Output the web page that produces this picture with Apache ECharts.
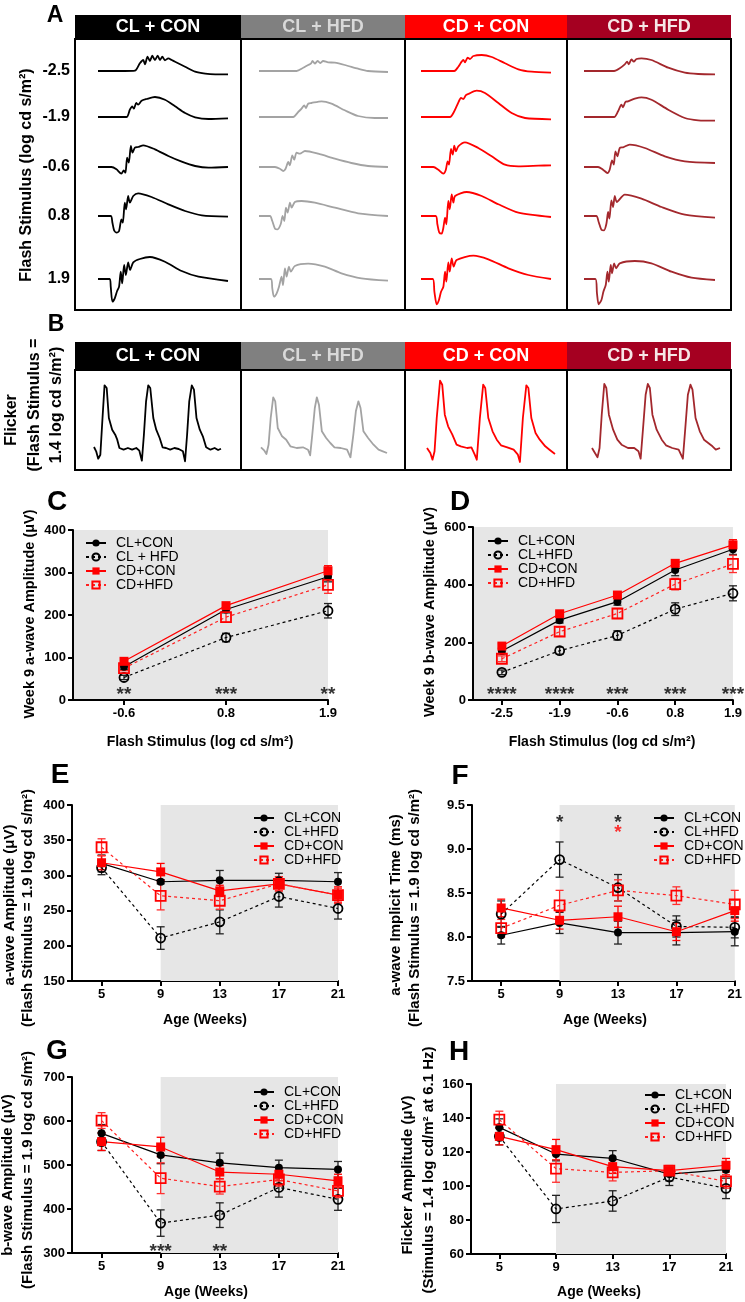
<!DOCTYPE html>
<html><head><meta charset="utf-8">
<script src="https://cdn.jsdelivr.net/npm/echarts@6/dist/echarts.min.js"></script>
<style>html,body{margin:0;padding:0;background:#fff}#c{width:745px;height:1302px}</style>
</head><body><div id="c"></div><script>
// ---------------- DATA ----------------
const groups = ['CL + CON', 'CL + HFD', 'CD + CON', 'CD + HFD'];
const rowLabels = ['-2.5', '-1.9', '-0.6', '0.8', '1.9'];

// Panel A ERG traces: [time % of sweep, amplitude (px-scaled)]
const ergCLCON = [
 [[0,0],[20.6,0],[28.4,0.3],[32.2,7.7],[34.8,11],[36.1,6.7],[38.1,14.3],[39.9,10],[41.8,15.3],[43.8,11],[45.9,15.3],[47.7,11],[49.5,14.3],[51.5,10.7],[54.1,12.7],[56.7,11],[59.3,9.3],[67,4.3],[74.7,-0.7],[82.5,-2.7],[90.2,-3.3],[100,-3.3]],
 [[0,0],[21.9,0],[24.5,7.3],[26.3,10.7],[27.6,8.3],[29.4,14],[30.9,12.3],[33.5,16.3],[37.4,18],[43.8,20],[51.5,17.3],[59.3,10.7],[67,4],[74.7,-0.3],[85,-2],[100,-1.3]],
 [[0,0],[10.3,0],[14.2,-2.3],[18,-6.7],[19.8,-3.3],[21.1,-5.7],[22.4,9.3],[23.7,4.3],[25.3,21],[26.5,14.3],[28.4,19.3],[30.9,20],[34.8,21.7],[43.8,17.7],[54.1,11],[64.4,5.3],[74.7,1],[85,-0.7],[100,0]],
 [[0,0],[9.8,0],[11.1,-6.7],[12.4,-14.3],[14.4,-16.7],[16.2,-15],[18,-3.3],[19.1,-6.7],[20.6,13.3],[21.6,6.7],[23.2,20],[24.5,13.3],[27.1,20],[30.9,22.7],[41.2,19],[54.1,11.7],[67,5],[79.9,0.7],[100,-0.7]],
 [[0,0],[9,0],[9.8,-7.7],[11.1,-22.7],[12.9,-19.3],[14.7,-12],[16.2,-7.7],[17.5,7.3],[18.6,-4.3],[20.1,14],[21.4,4],[23.2,16.7],[24.7,9],[27.1,16.7],[32.2,20],[39.9,22],[51.5,17.3],[64.4,8],[77.3,2.3],[100,-2]]
];
const ergCLHFD = [
 [[0,0],[29.1,0],[34.3,3.3],[38.1,6],[40.2,7.3],[41.5,10],[43.3,7.3],[45.4,10],[47.4,8],[49.7,10],[53.6,8.7],[58.8,8.3],[66.5,6],[76.8,2.3],[84.5,0],[100,-1]],
 [[0,0],[26.5,0],[30.4,5],[33,8.3],[35.1,11.7],[36.3,9],[38.1,13.3],[40.7,14],[48.5,15.7],[56.2,13.3],[66.5,6.7],[76.8,1],[89.7,-1],[100,-1]],
 [[0,0],[12.4,0],[16.2,-1.7],[18.8,-4],[20.6,-1.7],[22.7,5],[23.9,1.7],[25.8,11.7],[27.3,7.3],[29.1,14.3],[31.7,13.3],[35.6,16],[45.9,13.3],[58.8,8.3],[71.6,4],[84.5,1],[100,0]],
 [[0,0],[8.5,0],[10.3,-5],[12.4,-12.7],[14.4,-13.3],[16.8,-8.3],[18.3,0],[19.6,-5],[20.9,8.3],[22.2,3.3],[24,13.3],[25.3,8.3],[27.8,14],[33,15],[43.3,13.3],[58.8,8.3],[76.8,2.7],[100,0]],
 [[0,0],[9.3,0],[10.3,-9.3],[11.6,-17.7],[13.7,-14.3],[15.5,-7.7],[17.5,2.3],[18.6,-6],[20.1,10.7],[21.4,2.3],[23.2,12.3],[24.7,7.3],[27.8,13],[38.1,15.3],[51,12.3],[63.9,5.7],[79.4,0.7],[100,-1.7]]
];
const ergCDCON = [
 [[0,0],[25.6,0],[28.7,4.3],[32.6,11],[33.8,8.7],[35.9,13.3],[37.7,12],[40.3,15],[46.7,16],[54.4,14],[64.6,7.7],[74.9,1.7],[85.1,-0.7],[100,-1.7]],
 [[0,0],[22.3,0],[25.6,5.7],[28.2,13],[30.8,19],[32.6,18],[34.4,21.7],[36.4,23],[42.8,26.3],[49.2,24],[59.5,14],[69.7,4],[80,-1],[100,-2.3]],
 [[0,0],[9.5,0],[13.3,-2.7],[17.2,-6.7],[19,-3.3],[20.5,5.7],[21.5,2.3],[23.1,18],[24.4,12.3],[25.6,21.3],[26.9,15.7],[28.7,20.7],[33.8,24.7],[44.1,19],[54.4,10.7],[64.6,2.3],[74.9,0.7],[90.3,1.3],[100,1.7]],
 [[0,0],[11.3,0],[12.6,-8.3],[14.1,-16.7],[15.9,-17.7],[17.2,-11.7],[18.5,-1.7],[19.5,-8.3],[21,15],[22.1,6.7],[23.6,21.7],[24.9,13.3],[26.2,20],[35.1,24],[46.7,20],[59.5,11.7],[74.9,3.3],[100,-1]],
 [[0,0],[9,0],[10.3,-12.7],[12.1,-25.3],[13.8,-21],[15.4,-12.7],[17.2,-7.7],[18.5,7.3],[19.5,-2.7],[21,16.7],[22.1,7.3],[23.6,20.7],[25.1,12.3],[27.4,19],[40.3,23.3],[51.8,19.7],[67.2,10.7],[82.6,4],[100,0]]
];
const ergCDHFD = [
 [[0,0],[23,0],[27.3,2.7],[31.1,6.7],[32.9,9.3],[34.2,6.7],[36.2,11.7],[38,9.3],[40.1,12],[43.9,12.7],[51.5,11],[64.3,3.3],[77,-1.7],[87.2,-3],[100,-3.3]],
 [[0,0],[23,0],[26,5.7],[28.6,12.3],[29.8,9.7],[31.6,15],[33.7,15.7],[38.8,18.3],[43.9,19.7],[51.5,17.3],[64.3,7.3],[77,-1],[87.2,-3.3],[100,-3.7]],
 [[0,0],[10.7,0],[14.5,-2.7],[17.9,-6],[19.6,-2.7],[21.4,6.7],[22.7,2.3],[24,15.7],[25.5,10.7],[27.3,19],[29.8,19.7],[34.9,22.3],[46.4,19],[61.7,10.7],[77,5.7],[100,4]],
 [[0,0],[9.4,0],[11.2,-6],[13.3,-13.7],[15.3,-14.3],[17.1,-7.7],[18.4,4],[19.4,-2.7],[20.9,15.7],[22.2,9],[23.5,20],[25,14],[31.1,21.3],[43.9,17.3],[59.2,9],[77,1.3],[100,-1.7]],
 [[0,0],[8.7,0],[9.9,-14.3],[11.2,-25.3],[13.3,-21],[14.8,-12.7],[16.6,-6],[17.9,7.3],[18.9,-2.7],[20.4,14],[21.4,5.7],[23,15.7],[24.5,10.7],[27.3,15.7],[38.8,18],[51.5,15.7],[66.8,7.3],[82.1,1.3],[100,-1]]
];

// Panel B flicker traces
const flkCLCON = [[0,1],[1.7,-3.3],[3.3,-10.7],[5,-6.7],[6.7,30],[8.3,62.7],[10,60],[11.7,30],[14.3,18.3],[16.7,13.3],[18.3,8.3],[20,0],[23.3,-1.7],[26.7,0],[30,-1.7],[33.3,0],[35.7,-2.7],[37.7,-12.7],[39.3,13.3],[41,46.7],[42.7,62.7],[44.3,60],[46.7,30],[49,18.3],[51.7,10],[54,0.7],[56.7,0],[60,-1.7],[63.3,0],[66.7,-1],[70,-3.3],[71.7,-13.3],[73.3,13.3],[75,46.7],[77,62.7],[78.7,58.3],[80.7,30],[83.3,18.3],[85.7,11.7],[88.3,0.7],[91.7,-1.7],[95,0],[97.7,-2],[100,-0.7]];
const flkCLHFD = [[0,0.7],[2.7,-2.7],[4.3,-6],[6,3.3],[7.7,30],[9.7,50.7],[11.3,46.7],[13.3,20],[16.7,11.7],[20,8.3],[23.3,1.7],[28.3,0],[33.3,0.7],[37.3,-1.7],[39,-7.3],[40.7,13.3],[42.7,40],[44.3,50.7],[46,43.3],[48.3,16.7],[51.7,10],[55,5],[58.3,0.7],[63.3,0],[68.3,-1.7],[71,-9.3],[73.3,13.3],[75.3,36.7],[77.3,46.7],[79,40],[81.3,16.7],[85,10],[89.3,3.3],[93.3,-1.7],[96.7,-3.3],[100,-5]];
const flkCDCON = [[0,0],[2.6,-5],[4.3,-11.7],[5.9,-3.3],[7.6,30],[10.2,67.3],[11.9,63.3],[13.9,33.3],[16.5,21.7],[19.8,13.3],[23.1,3.3],[26.4,1.7],[31.4,0],[34.7,0.7],[37.3,-6.7],[38.9,-11.7],[41.3,30],[43.9,63.3],[45.5,60],[47.9,30],[51.2,16.7],[54.5,8.3],[57.8,2.7],[62.7,0.7],[67.7,-1.7],[71,-6.7],[72.6,-14],[74.9,30],[77.6,62.7],[79.2,60],[81.5,30],[84.8,15],[88.1,8.3],[92.4,1.7],[95.7,-1.7],[100,-6]];
const flkCDHFD = [[0,0],[2.3,-5],[4.3,-9.3],[5.9,0],[7.6,33.3],[9.6,64],[11.2,60],[13.2,33.3],[16.5,18.3],[19.8,8.3],[23.1,3.3],[28.1,0],[33,0],[36.3,-3.3],[38,-10.7],[39.9,20],[41.9,53.3],[43.6,64],[45.2,60],[47.2,33.3],[50.5,18.3],[54.5,8.3],[57.8,2.7],[62.7,0],[67.7,-1.7],[71,-10.7],[72.9,20],[74.9,53.3],[76.9,63.3],[78.5,58.3],[80.9,30],[84.2,16.7],[87.5,8.3],[90.8,5],[94.1,1.7],[96.7,-1.7],[100,0]];

// Panel C (week 9 a-wave) and D (week 9 b-wave)
const cStim = ['-0.6', '0.8', '1.9'];
const cCLCON = [78, 213, 290], cCLCONe = [7, 8, 12];
const cCLHFD = [53, 147, 210], cCLHFDe = [5, 10, 17];
const cCDCON = [91, 222, 304], cCDCONe = [6, 6, 12];
const cCDHFD = [75, 195, 271], cCDHFDe = [6, 12, 20];
const cStars = ['**', '***', '**'];

const dStim = ['-2.5', '-1.9', '-0.6', '0.8', '1.9'];
const dCLCON = [170, 277, 341, 451, 523], dCLCONe = [10, 10, 12, 20, 18];
const dCLHFD = [96, 171, 224, 315, 370], dCLHFDe = [8, 12, 16, 22, 26];
const dCDCON = [187, 299, 364, 474, 538], dCDCONe = [8, 8, 8, 12, 18];
const dCDHFD = [143, 237, 300, 402, 472], dCDHFDe = [10, 15, 17, 20, 30];
const dStars = ['****', '****', '***', '***', '***'];

// Panels E-H over age
const ages = [5, 9, 13, 17, 21];
const eCLCON = [317, 291, 293, 293, 291], eCLCONe = [12, 3, 14, 10, 13];
const eCLHFD = [311, 211, 234, 270, 253], eCLHFDe = [10, 16, 17, 15, 15];
const eCDCON = [318, 305, 278, 288, 272], eCDCONe = [10, 12, 8, 10, 10];
const eCDHFD = [340, 271, 264, 288, 272], eCDHFDe = [12, 20, 12, 10, 12];

const fCLCON = [8.02, 8.16, 8.05, 8.05, 8.06], fCLCONe = [0.1, 0.12, 0.13, 0.14, 0.16];
const fCLHFD = [8.26, 8.88, 8.56, 8.12, 8.11], fCLHFDe = [0.15, 0.2, 0.15, 0.12, 0.12];
const fCDCON = [8.33, 8.19, 8.23, 8.06, 8.30], fCDCONe = [0.1, 0.1, 0.12, 0.1, 0.12];
const fCDHFD = [8.10, 8.36, 8.53, 8.47, 8.37], fCDHFDe = [0.1, 0.17, 0.12, 0.1, 0.16];

const gCLCON = [572, 523, 505, 494, 490], gCLCONe = [20, 20, 22, 17, 18];
const gCLHFD = [553, 368, 386, 449, 422], gCLHFDe = [20, 30, 28, 22, 25];
const gCDCON = [553, 541, 484, 479, 464], gCDCONe = [20, 22, 15, 15, 15];
const gCDHFD = [601, 470, 451, 467, 441], gCDHFDe = [18, 35, 17, 15, 15];
const gStars = [['***', 9], ['**', 13]];

const hCLCON = [134.5, 118.8, 116.3, 107, 109.6], hCLCONe = [5, 4, 4.5, 4, 4];
const hCLHFD = [129.2, 86.5, 91.2, 105.3, 98.6], hCLHFDe = [5, 8, 6, 5, 6];
const hCDCON = [129.2, 121.4, 111.4, 109, 112.2], hCDCONe = [5, 6, 4, 3, 4];
const hCDHFD = [139, 110.2, 108, 109, 102.7], hCDHFDe = [5, 8, 5, 3, 4];

// ---------------- BUILD ----------------
const FONT = 'Arial, "Liberation Sans", Helvetica, sans-serif';
const grids = [], xAxes = [], yAxes = [], series = [], graphic = [], legends = [];
function addGrid(g, x, y) {
  grids.push(g); const i = grids.length - 1;
  xAxes.push(Object.assign({gridIndex: i}, x)); yAxes.push(Object.assign({gridIndex: i}, y));
  return i;
}
function txt(x, y, text, o) {
  o = o || {};
  const a = o.a || 'center', v = o.v || 'middle';
  graphic.push({type: 'text', x, y, rotation: o.rot || 0, z: 100, silent: true,
    style: {text, font: (o.w || 'bold') + ' ' + (o.s || 13) + 'px ' + FONT, fill: o.c || '#000',
      textAlign: a, textVerticalAlign: v, align: a, verticalAlign: v}});
}
function rect(x, y, w, h, fill, stroke, lw) {
  graphic.push({type: 'rect', silent: true, z: 90, shape: {x, y, width: w, height: h},
    style: {fill: fill || 'none', stroke: stroke || 'none', lineWidth: lw || 0}});
}

// ---- Panel A/B frames and headers
const boxX = [75, 241, 405, 567, 731];
const headFill = ['#000000', '#808080', '#ff0000', '#a50021'];
const headText = ['#ffffff', '#d9d9d9', '#ffffff', '#f6e6e6'];
for (let g = 0; g < 4; g++) {
  const x0 = boxX[g], w = boxX[g + 1] - boxX[g];
  rect(x0, 15, w, 24, headFill[g]);
  txt(x0 + w / 2, 27.5, groups[g], {s: 18, c: headText[g]});
  rect(x0, 39, w, 271, null, '#000', 2);
  rect(x0, 342, w, 28, headFill[g]);
  txt(x0 + w / 2, 356.5, groups[g], {s: 18, c: headText[g]});
  rect(x0, 370, w, 100, null, '#000', 2);
}
txt(55, 16, 'A', {s: 23});
txt(56, 325, 'B', {s: 23});
txt(27, 175, 'Flash Stimulus (log cd s/m²)', {s: 16, rot: Math.PI / 2});
txt(12, 420, 'Flicker', {s: 16, rot: Math.PI / 2});
txt(35, 405, '(Flash Stimulus =', {s: 16, rot: Math.PI / 2});
txt(57, 405, '1.4 log cd s/m²)', {s: 16, rot: Math.PI / 2});
const rowBase = [71, 117, 167, 216, 279];
rowLabels.forEach((l, r) => txt(70, rowBase[r], l, {s: 16, a: 'right'}));

// ---- traces
const traceColors = ['#000000', '#a3a3a3', '#ff0000', '#a3282d'];
const ergSets = [ergCLCON, ergCLHFD, ergCDCON, ergCDHFD];
const ergX = [[98, 228], [259, 388], [421, 551], [584, 715]];
ergSets.forEach((set, g) => set.forEach((tr, r) => {
  const gi = addGrid({left: ergX[g][0], width: ergX[g][1] - ergX[g][0], top: rowBase[r] - 30, height: 60, show: false},
    {type: 'value', min: 0, max: 100, show: false}, {type: 'value', min: -30, max: 30, show: false});
  series.push({type: 'line', xAxisIndex: gi, yAxisIndex: gi, data: tr, showSymbol: false, smooth: 0.25, silent: true,
    lineStyle: {color: traceColors[g], width: 1.8}});
}));
const flkSets = [flkCLCON, flkCLHFD, flkCDCON, flkCDHFD];
const flkX = [[94, 221], [261, 387], [427, 555], [592, 720]];
flkSets.forEach((tr, g) => {
  const gi = addGrid({left: flkX[g][0], width: flkX[g][1] - flkX[g][0], top: 378, height: 90, show: false},
    {type: 'value', min: 0, max: 100, show: false}, {type: 'value', min: -20, max: 70, show: false});
  series.push({type: 'line', xAxisIndex: gi, yAxisIndex: gi, data: tr, showSymbol: false, smooth: false, silent: true,
    lineStyle: {color: traceColors[g], width: 1.8, join: 'round'}});
});

// ---- plot panels
const axisBase = {
  axisLine: {show: true, onZero: false, lineStyle: {color: '#000', width: 2}},
  axisTick: {show: true, length: 5, lineStyle: {color: '#000', width: 2}},
  axisLabel: {color: '#000', fontWeight: 'bold', fontSize: 13, fontFamily: FONT, margin: 7},
  splitLine: {show: false}
};
function ax(extra) { return Object.assign(JSON.parse(JSON.stringify(axisBase)), extra); }
const sty = [
  {symbol: 'circle', symbolSize: 8, itemStyle: {color: '#000'}, lineStyle: {color: '#000', width: 1.2}, ec: '#222'},
  {symbol: 'circle', symbolSize: 9, itemStyle: {color: 'rgba(0,0,0,0)', borderColor: '#000', borderWidth: 1.8}, lineStyle: {color: '#000', width: 1.2, type: [3, 3]}, ec: '#222'},
  {symbol: 'rect', symbolSize: 9, itemStyle: {color: '#ff0000'}, lineStyle: {color: '#ff0000', width: 1.2}, ec: '#ff0000'},
  {symbol: 'rect', symbolSize: 10, itemStyle: {color: 'rgba(0,0,0,0)', borderColor: '#ff0000', borderWidth: 1.8}, lineStyle: {color: '#ff2020', width: 1.2, type: [3, 3]}, ec: '#ff3030'}
];
function errSeries(gi, xs, ys, es, color) {
  series.push({type: 'custom', xAxisIndex: gi, yAxisIndex: gi, silent: true, z: 3,
    data: xs.map((x, i) => [x, ys[i], es[i]]), encode: {x: 0, y: 1},
    renderItem: function (params, api) {
      const x = api.value(0), y = api.value(1), e = api.value(2);
      const hi = api.coord([x, y + e]), lo = api.coord([x, y - e]);
      const s = {stroke: color, lineWidth: 1.3};
      return {type: 'group', children: [
        {type: 'line', shape: {x1: hi[0], y1: hi[1], x2: lo[0], y2: lo[1]}, style: s},
        {type: 'line', shape: {x1: hi[0] - 4, y1: hi[1], x2: hi[0] + 4, y2: hi[1]}, style: s},
        {type: 'line', shape: {x1: lo[0] - 4, y1: lo[1], x2: lo[0] + 4, y2: lo[1]}, style: s}]};
    }});
}
function panel(gi, xs, sets, errs, names) {
  sets.forEach((ys, k) => {
    const s = sty[k];
    series.push({type: 'line', name: names[k], xAxisIndex: gi, yAxisIndex: gi, z: 4,
      data: xs.map((x, i) => [x, ys[i]]), symbol: s.symbol, symbolSize: s.symbolSize,
      itemStyle: s.itemStyle, lineStyle: s.lineStyle, emphasis: {disabled: true}, silent: true});
    errSeries(gi, xs, ys, errs[k], s.ec);
  });
}
function shade(gi, lo, ymin) {
  series.push({type: 'line', xAxisIndex: gi, yAxisIndex: gi, z: 1, silent: true, data: [[lo, ymin]], showSymbol: false,
    lineStyle: {opacity: 0}, markArea: {silent: true, itemStyle: {color: '#e6e6e6'}, data: [[{xAxis: lo}, {xAxis: 21}]]}});
}
function stars(gi, pts, color) {
  series.push({type: 'scatter', xAxisIndex: gi, yAxisIndex: gi, z: 6, silent: true, symbolSize: 2,
    itemStyle: {color: 'rgba(0,0,0,0)'}, data: pts,
    label: {show: true, position: 'inside', offset: [0, 5], formatter: p => p.data[2], color: color || '#000',
      fontSize: 19, fontWeight: 'bold', fontFamily: FONT}});
}
const names4 = ['CL+CON', 'CL+HFD', 'CD+CON', 'CD+HFD'];
const namesC = ['CL+CON', 'CL + HFD', 'CD+CON', 'CD+HFD'];
function legend(left, top, names, lh) {
  legends.push({left, top, orient: 'vertical', itemGap: 0, itemWidth: 20, itemHeight: 9, selectedMode: false,
    data: names, textStyle: {fontSize: 14, fontFamily: FONT, color: '#000', lineHeight: lh, padding: [0, 0, 0, 5]}});
}

// C
const ix3 = cStim.map((_, i) => i), ix5 = dStim.map((_, i) => i);
let gi = addGrid({left: 73, top: 530, width: 255, height: 170, show: true, backgroundColor: '#e6e6e6', borderWidth: 0},
  ax({type: 'value', min: -0.5, max: 2, axisTick: Object.assign({}, axisBase.axisTick, {customValues: ix3}),
    axisLabel: Object.assign({}, axisBase.axisLabel, {customValues: ix3, formatter: v => cStim[Math.round(v)]})}),
  ax({type: 'value', min: 0, max: 400, interval: 100}));
panel(gi, ix3, [cCLCON, cCLHFD, cCDCON, cCDHFD], [cCLCONe, cCLHFDe, cCDCONe, cCDHFDe], namesC);
stars(gi, ix3.map(i => [i, 23, cStars[i]]));
legend(80, 531, namesC, 13);
txt(57, 502, 'C', {s: 28});
txt(30, 614, 'Week 9 a-wave Amplitude (μV)', {s: 14.5, rot: Math.PI / 2});
txt(200, 742, 'Flash Stimulus (log cd s/m²)', {s: 14});

// D
gi = addGrid({left: 473, top: 527, width: 260, height: 173, show: true, backgroundColor: '#e6e6e6', borderWidth: 0},
  ax({type: 'value', min: -0.5, max: 4, axisTick: Object.assign({}, axisBase.axisTick, {customValues: ix5}),
    axisLabel: Object.assign({}, axisBase.axisLabel, {customValues: ix5, formatter: v => dStim[Math.round(v)]})}),
  ax({type: 'value', min: 0, max: 600, interval: 200}));
panel(gi, ix5, [dCLCON, dCLHFD, dCDCON, dCDHFD], [dCLCONe, dCLHFDe, dCDCONe, dCDHFDe], names4);
stars(gi, ix5.map(i => [i, 35, dStars[i]]));
legend(482, 529, names4, 12.5);
txt(460, 502, 'D', {s: 28});
txt(430, 612, 'Week 9 b-wave Amplitude (μV)', {s: 14.5, rot: Math.PI / 2});
txt(602, 742, 'Flash Stimulus (log cd s/m²)', {s: 14});

function agePanel(left, top, w, h, ymin, ymax, step, fmt) {
  return addGrid({left, top, width: w, height: h, show: false},
    ax({type: 'value', min: 3, max: 21, axisTick: Object.assign({}, axisBase.axisTick, {customValues: ages}),
      axisLabel: Object.assign({}, axisBase.axisLabel, {customValues: ages})}),
    ax({type: 'value', min: ymin, max: ymax, interval: step,
      axisLabel: Object.assign({}, axisBase.axisLabel, fmt ? {formatter: fmt} : {})}));
}
// E
gi = agePanel(72, 805, 266, 176, 150, 400, 50);
shade(gi, 9, 150);
panel(gi, ages, [eCLCON, eCLHFD, eCDCON, eCDHFD], [eCLCONe, eCLHFDe, eCDCONe, eCDHFDe], names4);
legend(248, 806, names4, 13);
txt(60, 775, 'E', {s: 28});
txt(10, 905, 'a-wave Amplitude (μV)', {s: 15, rot: Math.PI / 2});
txt(28, 908, '(Flash Stimulus = 1.9 log cd s/m²)', {s: 15, rot: Math.PI / 2});
txt(205, 1020, 'Age (Weeks)', {s: 14});

// F
gi = agePanel(472, 805, 266, 176, 7.5, 9.5, 0.5, v => v.toFixed(1));
shade(gi, 9, 7.5);
panel(gi, ages, [fCLCON, fCLHFD, fCDCON, fCDHFD], [fCLCONe, fCLHFDe, fCDCONe, fCDHFDe], names4);
stars(gi, [[9, 9.35, '*'], [13, 9.35, '*']]);
stars(gi, [[13, 9.24, '*']], '#ff0000');
legend(648, 806, names4, 13.3);
txt(460, 776, 'F', {s: 28});
txt(396, 905, 'a-wave Implicit Time (ms)', {s: 15, rot: Math.PI / 2});
txt(415, 908, '(Flash Stimulus = 1.9 log cd s/m²)', {s: 15, rot: Math.PI / 2});
txt(605, 1020, 'Age (Weeks)', {s: 14});

// G
gi = agePanel(72, 1077, 266, 176, 300, 700, 100);
shade(gi, 9, 300);
panel(gi, ages, [gCLCON, gCLHFD, gCDCON, gCDHFD], [gCLCONe, gCLHFDe, gCDCONe, gCDHFDe], names4);
stars(gi, gStars.map(s => [s[1], 314, s[0]]));
legend(248, 1080, names4, 14);
txt(57, 1051, 'G', {s: 28});
txt(8, 1175, 'b-wave Amplitude (μV)', {s: 15, rot: Math.PI / 2});
txt(28, 1170, '(Flash Stimulus = 1.9 log cd s/m²)', {s: 15, rot: Math.PI / 2});
txt(206, 1292, 'Age (Weeks)', {s: 14});

// H
gi = agePanel(471, 1084, 255, 170, 60, 160, 20);
shade(gi, 9, 60);
panel(gi, ages, [hCLCON, hCLHFD, hCDCON, hCDHFD], [hCLCONe, hCLHFDe, hCDCONe, hCDHFDe], names4);
legend(639, 1083, names4, 14);
txt(459, 1052, 'H', {s: 28});
txt(408, 1175, 'Flicker Amplitude (μV)', {s: 15, rot: Math.PI / 2});
txt(429, 1170, '(Stimulus = 1.4 log cd/m² at 6.1 Hz)', {s: 15, rot: Math.PI / 2});
txt(599, 1292, 'Age (Weeks)', {s: 14});

const chart = echarts.init(document.getElementById('c'), null, {renderer: 'canvas'});
chart.setOption({animation: false, backgroundColor: '#fff', grid: grids, xAxis: xAxes, yAxis: yAxes,
  series, legend: legends, graphic: {elements: graphic}});
</script></body></html>
